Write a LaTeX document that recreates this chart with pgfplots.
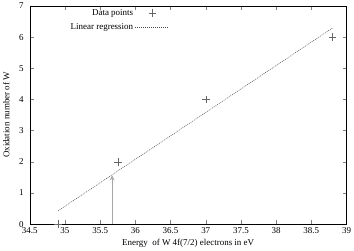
\documentclass[border=0pt]{standalone}
\usepackage{fontspec}
\setmainfont{Liberation Serif}
\usepackage{pgfplots}
\pgfplotsset{compat=1.18}
\pgfplotsset{
  marklegend/.style={legend image code/.code={%
    \draw[##1] plot coordinates {(17pt,0pt)};
    \path (0pt,0pt) (34pt,0pt);}},
  linelegend/.style={legend image code/.code={%
    \draw[##1] (0pt,0pt) -- (34pt,0pt);}},
}
\begin{document}
\fontsize{9}{10}\selectfont
\begin{tikzpicture}
\begin{axis}[
  scale only axis,
  width=318pt, height=219pt,
  xmin=34.5, xmax=39, ymin=0, ymax=7,
  xtick={34.5,35,35.5,36,36.5,37,37.5,38,38.5,39},
  ytick={0,1,2,3,4,5,6,7},
  xticklabel style={/pgf/number format/fixed, /pgf/number format/precision=1},
  yticklabel style={xshift=-3pt},
  /pgf/number format/assume math mode=true,
  tick align=inside,
  major tick length=4pt,
  minor tick num=0,
  tick label style={font=\fontsize{9}{10}\selectfont},
  label style={font=\fontsize{9}{10}\selectfont},
  xlabel={Energy\ \ of W 4f(7/2) electrons in eV},
  ylabel={Oxidation number of W},
  xlabel style={yshift=0pt},
  ylabel style={yshift=3.5pt},
  legend plot pos=right,
  legend cell align=right,
  legend style={draw=none, fill=none, at={(0.445,1.0)}, anchor=north east,
    font=\fontsize{9}{10}\selectfont, row sep=3.5pt, inner sep=1pt},
  axis line style={black, line width=0.5pt},
]
\addplot[only marks, mark=+, mark size=3.8pt, gray!80!black, mark options={line width=0.4pt}, marklegend]
  coordinates {(34.9,0) (35.75,2) (37,4) (38.8,6)};
\addlegendentry{Data points}
\addplot[gray!60!black, line width=0.5pt, dash pattern=on 1pt off 1pt, linelegend]
  coordinates {(34.9,0.424) (38.8,6.29)};
\addlegendentry{Linear regression}
\addplot[gray!70, line width=1.2pt, -stealth, forget plot]
  coordinates {(35.67,0) (35.67,1.56)};
\end{axis}
\end{tikzpicture}
\end{document}
